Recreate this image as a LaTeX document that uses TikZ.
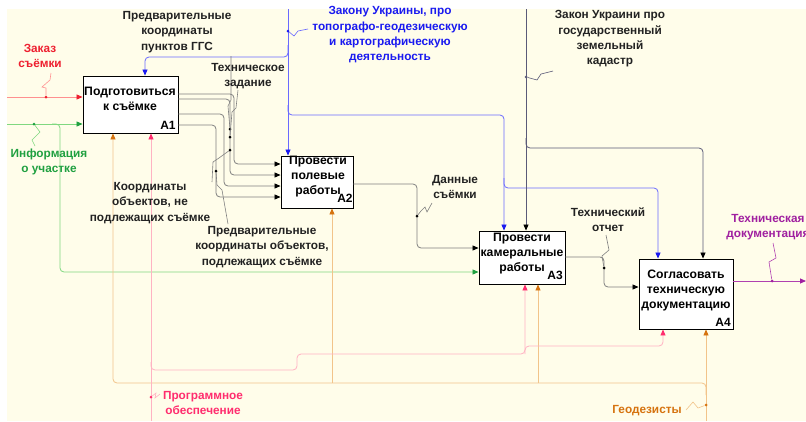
\documentclass[tikz,border=0pt]{standalone}
\usepackage{fontspec}
\setmainfont{Liberation Sans}
\usetikzlibrary{arrows.meta}
\definecolor{cream}{HTML}{FFFDEA}
\definecolor{lred}{HTML}{FF9090}
\definecolor{tred}{HTML}{EE2030}
\definecolor{lgreen}{HTML}{80D880}
\definecolor{tgreen}{HTML}{20A040}
\definecolor{lblue}{HTML}{6A6AFF}
\definecolor{tblue}{HTML}{1A1AF0}
\definecolor{lgray}{HTML}{808080}
\definecolor{law}{HTML}{5A5A78}
\definecolor{lorange}{HTML}{F2C48A}
\definecolor{torange}{HTML}{D6730F}
\definecolor{lpink}{HTML}{FFB3C3}
\definecolor{tpink}{HTML}{FF2D6E}
\definecolor{lpurple}{HTML}{B040B0}
\definecolor{tpurple}{HTML}{A020A0}
\definecolor{ink}{HTML}{222222}
\tikzset{
  box/.style={draw=black, line width=0.9pt, fill=white, inner sep=0pt},
  boxtxt/.style={font=\bfseries\fontsize{12.2}{15}\selectfont, align=center, inner sep=0pt, text=black},
  numtxt/.style={font=\bfseries\fontsize{12}{14}\selectfont, inner sep=0pt, text=black},
  lbl/.style={font=\bfseries\fontsize{11.8}{15.3}\selectfont, align=center, inner sep=0pt},
  flow/.style={line width=0.8pt, rounded corners=4pt},
  squig/.style={line width=0.6pt},
  dotn/.style={circle, fill, inner sep=0pt, minimum size=3pt},
  atip/.style={-{Triangle[length=6pt,width=5pt,color=#1]}}
}
\begin{document}
\begin{tikzpicture}[x=1pt,y=-1pt]
\useasboundingbox (0,0) rectangle (806,421);
\fill[white] (0,0) rectangle (806,421);
\fill[cream] (7,9) rectangle (806,421);

% boxes
\node[box, minimum width=95pt, minimum height=57pt] (A1) at (130.5,104.5) {};
\node[box, minimum width=72pt, minimum height=52pt] (A2) at (317,182) {};
\node[box, minimum width=86pt, minimum height=53pt] (A3) at (522,257.5) {};
\node[box, minimum width=94pt, minimum height=70pt] (A4) at (686,294) {};

% ---- controls (blue)
\draw[flow, lblue, atip=tblue] (288,9) -- (288,0 |- A2.north);
\draw[flow, lblue, atip=tblue] (288,45) -- (288,57) -- (145,57) -- (145,0 |- A1.north);
\draw[flow, lblue, atip=tblue] (288,105) -- (288,115) -- (504,115) -- (504,0 |- A3.north);
\draw[flow, lblue, atip=tblue] (504,178) -- (504,188) -- (658,188) -- (658,0 |- A4.north);
\node[dotn, tblue] (dBlue) at (288,31) {};
\draw[squig, lblue] (dBlue) -- (294,36) -- (298,31) -- (308,29);

% ---- controls (law, grey)
\draw[flow, law, atip=black] (526,9) -- (526,0 |- A3.north);
\draw[flow, law, atip=black] (526,138) -- (526,148) -- (703,148) -- (703,0 |- A4.north);
\node[dotn, law] (dLaw) at (526,77) {};
\draw[squig, law] (dLaw) -- (537,80) -- (541,74) -- (553,71);

% ---- inputs
\draw[flow, lred, atip=tred] (7,97) -- (A1.west |- 0,97);
\node[dotn, tred] (dRed) at (46,97) {};
\draw[squig, lred] (dRed) -- (46,88) -- (42,87) -- (50,80) -- (51,73);

\draw[flow, lgreen, atip=tgreen] (7,124) -- (A1.west |- 0,124);
\draw[flow, lgreen, atip=tgreen] (52,124) -- (60,124) -- (60,272) -- (A3.west |- 0,272);
\node[dotn, tgreen] (dGreen) at (34,124) {};
\draw[squig, lgreen] (dGreen) -- (40,132) -- (32,140) -- (35,146);

% ---- A1 outputs to A2
\draw[flow, lgray, atip=black] (A1.east |- 0,94) -- (234,94) -- (234,164) -- (A2.west |- 0,164);
\draw[flow, lgray, atip=black] (A1.east |- 0,99) -- (230,99) -- (230,175) -- (A2.west |- 0,175);
\draw[flow, lgray, atip=black] (A1.east |- 0,114) -- (224,114) -- (224,186) -- (A2.west |- 0,186);
\draw[flow, lgray, atip=black] (A1.east |- 0,125) -- (216,125) -- (216,197) -- (A2.west |- 0,197);
\node[dotn, black] (dO1) at (230,129) {};
\node[dotn, black] (dO2) at (230,137) {};
\node[dotn, black] (dO3) at (230,150) {};
\node[dotn, black] (dO4) at (216,171) {};
\draw[squig, lgray] (231,56) -- (231,100) -- (228,106) -- (dO1);
\draw[squig, lgray] (238,90) -- (236,108) -- (232,112) -- (dO2);
\draw[squig, lgray] (212,182) -- (213,162) -- (219,158) -- (dO3);
\draw[squig, lgray] (228,224) -- (222,190) -- (217,185) -- (dO4);

% ---- A2 -> A3
\draw[flow, lgray, atip=black] (A2.east |- 0,184) -- (417,184) -- (417,248) -- (A3.west |- 0,248);
\node[dotn, black] (dA2) at (417,216) {};
\draw[squig, lgray] (dA2) -- (421,211) -- (425,207) -- (427,212) -- (432,203);

% ---- A3 -> A4
\draw[flow, lgray, atip=black] (A3.east |- 0,257) -- (604,257) -- (604,287) -- (A4.west |- 0,287);
\node[dotn, black] (dA3) at (604,268) {};
\draw[squig, lgray] (dA3) -- (602,256) -- (609,250) -- (606,235);

% ---- A4 output
\coordinate (outEnd) at (806,281);
\draw[flow, lpurple, atip=tpurple] (A4.east |- 0,281) -- (outEnd);
\node[dotn, tpurple] (dA4) at (772,281) {};
\draw[squig, lpurple] (dA4) -- (769,262) -- (776,258) -- (773,243);

% ---- mechanisms (orange)
\draw[flow, lorange, atip=torange] (706,421) -- (706,0 |- A4.south);
\draw[flow, lorange, atip=torange] (706,395) -- (706,383) -- (113,383) -- (113,0 |- A1.south);
\draw[flow, lorange, atip=torange] (332,383) -- (332,0 |- A2.south);
\draw[flow, lorange, atip=torange] (538,383) -- (538,0 |- A3.south);
\node[dotn, torange] (dOr) at (706,405) {};
\draw[squig, lorange] (dOr) -- (698,408) -- (693,402) -- (686,410);

% ---- mechanisms (pink)
\draw[flow, lpink, atip=tpink] (151,421) -- (151,0 |- A1.south);
\draw[flow, lpink, atip=tpink] (151,362) -- (151,370) -- (297,370) -- (297,354) -- (525,354) -- (525,0 |- A3.south);
\draw[flow, lpink, atip=tpink] (525,354) -- (525,346) -- (663,346) -- (663,0 |- A4.south);
\node[dotn, tpink] (dPk) at (151,397) {};
\draw[squig, lpink] (dPk) -- (156,393) -- (155,398) -- (160,394);

% ---- box texts
\node[boxtxt] (t1) at (130,99) {Подготовиться\\к съёмке};
\node[numtxt] (n1) at (168,125) {A1};
\node[boxtxt] (t2) at (318,177) {Провести\\полевые\\работы};
\node[numtxt] (n2) at (345,198) {A2};
\node[boxtxt] (t3) at (522,253.5) {Провести\\камеральные\\работы};
\node[numtxt] (n3) at (555,275) {A3};
\node[boxtxt] (t4) at (686,290.5) {Согласовать\\техническую\\документацию};
\node[numtxt] (n4) at (723,322) {A4};

% ---- labels
\node[lbl, text=tred] (lRed) at (40,56) {Заказ\\съёмки};
\node[lbl, text=tgreen] (lGreen) at (49,162) {Информация\\о участке};
\node[lbl, text=ink] (lGGS) at (177,32) {Предварительные\\координаты\\пунктов ГГС};
\node[lbl, text=tblue] (lBlue) at (390,35) {Закону Украины, про\\топографо-геодезическую\\и картографическую\\деятельность};
\node[lbl, text=ink] (lLaw) at (610,39) {Закон Украини про\\государственный\\земельный\\кадастр};
\node[lbl, text=ink] (lTZ) at (248,76) {Техническое\\задание};
\node[lbl, text=ink] (lNot) at (150,203) {Координаты\\объектов, не\\подлежащих съёмке};
\node[lbl, text=ink] (lPre) at (262,247) {Предварительные\\координаты объектов,\\подлежащих съёмке};
\node[lbl, text=ink] (lData) at (455,187) {Данные\\съёмки};
\node[lbl, text=ink] (lRep) at (608,220) {Технический\\отчет};
\node[lbl, text=tpurple] (lDoc) at (768,227) {Техническая\\документация};
\node[lbl, text=tpink] (lSoft) at (203,403) {Программное\\обеспечение};
\node[lbl, text=torange] (lGeo) at (647,411) {Геодезисты};
\end{tikzpicture}
\end{document}
